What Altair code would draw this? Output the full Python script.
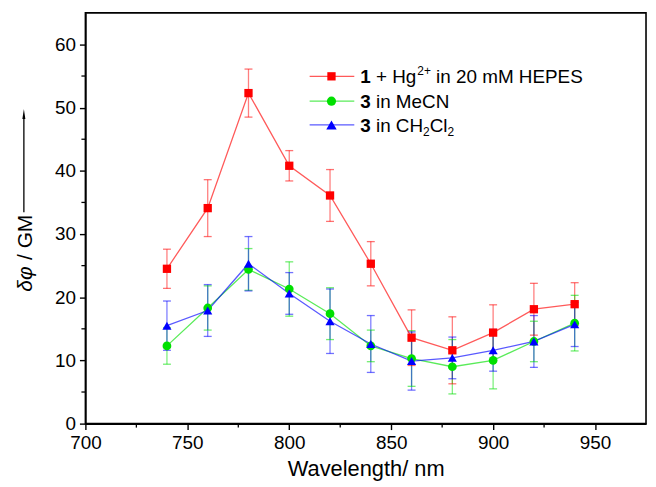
import altair as alt
import pandas as pd

# ---------------- data ----------------
wavelength = [740, 760, 780, 800, 820, 840, 860, 880, 900, 920, 940]
series_names = ["1 + Hg2+ in 20 mM HEPES", "3 in MeCN", "3 in CH2Cl2"]
hepes_vals = [24.5, 34.1, 52.3, 40.8, 36.1, 25.3, 13.6, 11.6, 14.4, 18.1, 18.9]
hepes_errs = [3.1, 4.5, 3.8, 2.4, 4.1, 3.5, 4.4, 5.3, 4.4, 4.1, 3.4]
mecn_vals = [12.3, 18.3, 24.4, 21.3, 17.4, 12.3, 10.3, 9.0, 10.0, 13.0, 15.9]
mecn_errs = [2.9, 3.5, 3.3, 4.3, 4.1, 2.5, 4.4, 4.3, 4.5, 3.2, 4.4]
dcm_vals = [15.5, 17.9, 25.3, 20.6, 16.2, 12.6, 9.9, 10.4, 11.6, 13.0, 15.7]
dcm_errs = [3.9, 4.1, 4.3, 3.3, 5.1, 4.5, 4.6, 3.3, 3.3, 4.1, 3.5]
x_ticks = [700, 750, 800, 850, 900, 950]
y_ticks = [0, 10, 20, 30, 40, 50, 60]
x_minor = [725, 775, 825, 875, 925]
y_minor = [5, 15, 25, 35, 45, 55]

# ---------------- styles ----------------
colors = ["#FF0000", "#00E000", "#0000FF"]
shapes = ["square", "circle", "triangle-up"]
sizes = [70, 85, 110]
FONT = "Liberation Sans"
W, H = 565, 414

rows = []
for name, vals, errs in zip(series_names,
                            [hepes_vals, mecn_vals, dcm_vals],
                            [hepes_errs, mecn_errs, dcm_errs]):
    for w, v, e in zip(wavelength, vals, errs):
        rows.append({"wl": w, "val": v, "lo": v - e, "hi": v + e, "series": name})
df = pd.DataFrame(rows)

xs = alt.Scale(domain=[700, 975], nice=False, zero=False)
ys = alt.Scale(domain=[0, 65], nice=False)
cscale = alt.Scale(domain=series_names, range=colors)
sscale = alt.Scale(domain=series_names, range=shapes)
zscale = alt.Scale(domain=series_names, range=sizes)

x_axis = alt.Axis(values=x_ticks, title="Wavelength/ nm", format="d", grid=False,
                  tickSize=6, labelPadding=4, titlePadding=6, titleFontSize=22,
                  titleFontWeight="normal", labelFontSize=19, labelFlush=False)
y_axis = alt.Axis(values=y_ticks, title="", format="d", grid=False,
                  tickSize=6, labelPadding=4, labelFontSize=19)


def X(field):
    return alt.X(field, scale=xs, axis=x_axis)


def Y(field):
    return alt.Y(field, scale=ys, axis=y_axis)


base = alt.Chart(df)
col = alt.Color("series:N", scale=cscale, legend=None)

errbars = base.mark_rule(strokeWidth=1.3, opacity=0.5).encode(
    x=X("wl:Q"), y=Y("lo:Q"), y2="hi:Q", color=col)
caps_lo = base.mark_point(shape="stroke", size=64, strokeWidth=1.3, opacity=0.55).encode(
    x=X("wl:Q"), y=Y("lo:Q"), color=col)
caps_hi = base.mark_point(shape="stroke", size=64, strokeWidth=1.3, opacity=0.55).encode(
    x=X("wl:Q"), y=Y("hi:Q"), color=col)
lines = base.mark_line(strokeWidth=1.3, opacity=0.65).encode(x=X("wl:Q"), y=Y("val:Q"), color=col)
points = base.mark_point(filled=True, opacity=1).encode(
    x=X("wl:Q"), y=Y("val:Q"), color=col,
    shape=alt.Shape("series:N", scale=sscale, legend=None),
    size=alt.Size("series:N", scale=zscale, legend=None))

minor_y = alt.Chart(pd.DataFrame({"v": y_minor})).mark_rule(color="black", strokeWidth=1.3).encode(
    y=Y("v:Q"), x=alt.value(0), x2=alt.value(-4))
minor_x = alt.Chart(pd.DataFrame({"v": x_minor})).mark_rule(color="black", strokeWidth=1.3).encode(
    x=X("v:Q"), y=alt.value(H), y2=alt.value(H + 4))

one = pd.DataFrame({"a": [1]})
layers = [errbars, caps_lo, caps_hi, lines, points, minor_y, minor_x]

# y-axis title (italic delta-phi) and arrow
layers.append(alt.Chart(one).mark_text(text="δφ", angle=270, align="left", baseline="middle",
                                       font=FONT, fontSize=21, fontStyle="italic", color="black")
              .encode(x=alt.value(-60), y=alt.value(281)))
layers.append(alt.Chart(one).mark_text(text="/ GM", angle=270, align="left", baseline="middle",
                                       font=FONT, fontSize=21, color="black")
              .encode(x=alt.value(-60), y=alt.value(249)))
layers.append(alt.Chart(one).mark_rule(color="black", strokeWidth=1.3)
              .encode(x=alt.value(-62), y=alt.value(104), y2=alt.value(201)))
layers.append(alt.Chart(one).mark_point(shape="M0,-1L0.3,1L-0.3,1Z", filled=True, size=100,
                                        color="black", opacity=1)
              .encode(x=alt.value(-62), y=alt.value(102)))

# ---------------- manual legend ----------------
WID = {' ': 278, '+': 584, 'H': 722, 'g': 556, 'i': 222, 'n': 556, '2': 556, '0': 556,
       'm': 833, 'M': 833, 'E': 667, 'P': 667, 'S': 667, 'e': 556, 'C': 722, 'N': 722,
       'l': 222, '1': 556, '3': 556}


def tw(s, fs):
    return sum(WID.get(c, 556) for c in s) * fs / 1000.0


LFS = 19
SFS = 12
legend_rows = [
    [("1", "bold", "n"), ("+ Hg", "normal", "n"), ("2+", "normal", "sup"),
     ("in 20 mM HEPES", "normal", "n")],
    [("3", "bold", "n"), ("in MeCN", "normal", "n")],
    [("3", "bold", "n"), ("in CH", "normal", "n"), ("2", "normal", "sub"),
     ("Cl", "normal", "n"), ("2", "normal", "sub")],
]
row_y = [64, 89, 113]
line_x0, line_x1, mark_x, text_x0 = 226, 271, 248, 277

for i, segs in enumerate(legend_rows):
    cy = row_y[i]
    layers.append(alt.Chart(one).mark_rule(color=colors[i], strokeWidth=1.3, opacity=0.65)
                  .encode(x=alt.value(line_x0), x2=alt.value(line_x1), y=alt.value(cy)))
    layers.append(alt.Chart(one).mark_point(shape=shapes[i], size=sizes[i], filled=True,
                                            color=colors[i], opacity=1)
                  .encode(x=alt.value(mark_x), y=alt.value(cy)))
    x = text_x0
    prev_kind = None
    base_y = cy + 7
    for j, (txt, weight, kind) in enumerate(segs):
        fs = LFS if kind == "n" else SFS
        if j > 0:
            if kind == "n" and prev_kind in ("n", "sup"):
                x += tw(" ", LFS)
            elif kind == "sup":
                x += 1
        yy = base_y - 8 if kind == "sup" else (base_y + 4 if kind == "sub" else base_y)
        layers.append(alt.Chart(one).mark_text(text=txt, align="left", baseline="alphabetic",
                                               font=FONT, fontSize=fs, fontWeight=weight,
                                               color="black")
                      .encode(x=alt.value(x), y=alt.value(yy)))
        x += tw(txt, fs)
        prev_kind = kind

chart = alt.layer(*layers).properties(
    width=W, height=H,
    autosize=alt.AutoSizeParams(type="none"),
    padding={"left": 78, "top": 3, "right": 2, "bottom": 62},
).configure_view(stroke="black", strokeWidth=1.6).configure_axis(
    labelFont=FONT, titleFont=FONT, labelColor="black", titleColor="black",
    domainColor="black", tickColor="black", domainWidth=1.6, tickWidth=1.4)

chart.save("out.html", embed_options={"renderer": "svg", "actions": False})
